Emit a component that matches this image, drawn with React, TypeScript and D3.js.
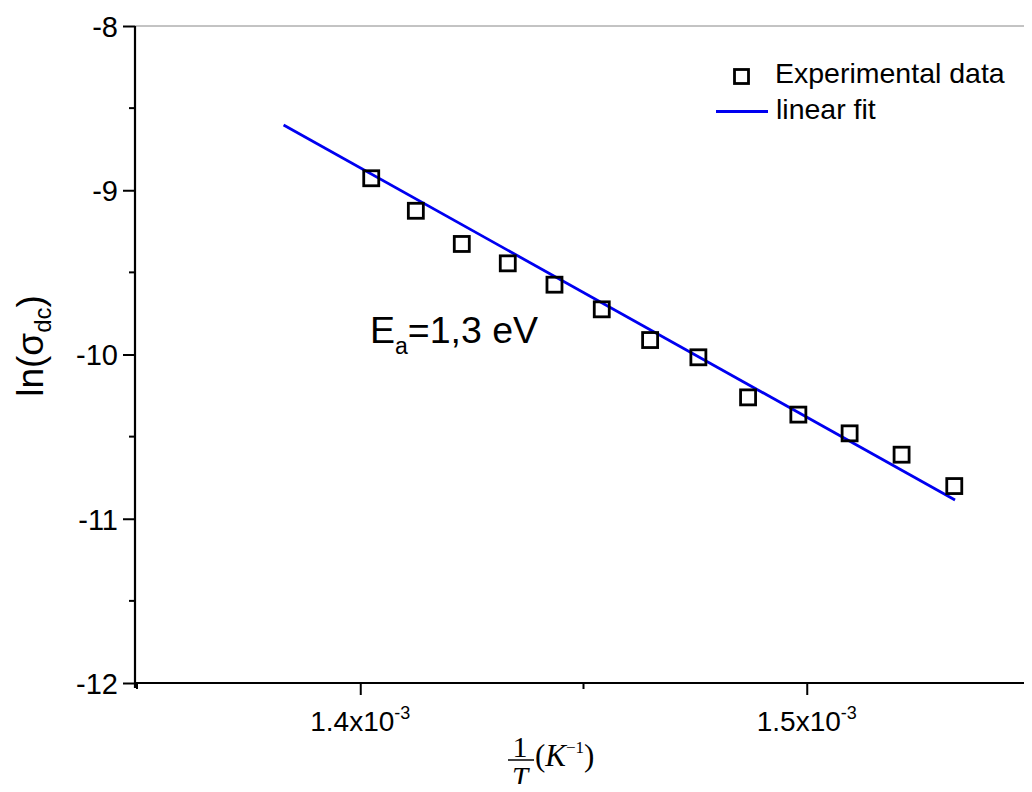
import React, { useEffect, useRef } from 'react';
import * as d3 from 'd3';

// measured points: 1/T (K^-1) vs ln(sigma_dc)
const invT = [1.40246e-3, 1.41245e-3, 1.42274e-3, 1.43304e-3, 1.4435e-3, 1.45409e-3, 1.46492e-3,
  1.47573e-3, 1.48686e-3, 1.49812e-3, 1.5096e-3, 1.52124e-3, 1.53304e-3];
const lnSigma = [-8.927, -9.125, -9.327, -9.445, -9.575, -9.725, -9.912,
  -10.017, -10.261, -10.366, -10.48, -10.61, -10.801];

// linear fit end points
const fitX = [1.38283e-3, 1.53321e-3];
const fitY = [-8.603, -10.886];

const yMajor = [-8, -9, -10, -11, -12];
const yMinor = [-8.5, -9.5, -10.5, -11.5];
const xMajor = [1.4e-3, 1.5e-3];
const xMinor = [1.35e-3, 1.45e-3, 1.55e-3];
const xTickText = ['1.4x10', '1.5x10'];

const W = 1032, H = 792;

export default function App() {
  const ref = useRef<SVGSVGElement>(null);

  useEffect(() => {
    const svg = d3.select(ref.current);
    svg.selectAll('*').remove();

    const left = 135, top = 26, bottom = 683;
    const x = d3.scaleLinear().domain([1.35e-3, 1.55e-3]).range([137, 1030]);
    const y = d3.scaleLinear().domain([-8, -12]).range([top, bottom]);
    const font = 'Liberation Sans, Arial, sans-serif';
    const blue = '#0000f0';

    // top frame line
    svg.append('line')
      .attr('x1', left).attr('x2', W).attr('y1', top).attr('y2', top)
      .attr('stroke', '#888').attr('stroke-width', 1);

    // y axis
    const yAxis = d3.axisLeft(y).tickValues(yMajor).tickSize(12).tickPadding(5)
      .tickFormat(d => String(d));
    const gy = svg.append('g').attr('transform', `translate(${left},0)`).call(yAxis);
    gy.select('.domain').remove();
    gy.selectAll('line').attr('stroke', '#000').attr('stroke-width', 2);
    gy.selectAll('text').attr('font-family', font).attr('font-size', 29).attr('fill', '#000')
      .attr('dy', '0.36em');
    svg.append('g').selectAll('line').data(yMinor).enter().append('line')
      .attr('x1', left - 6).attr('x2', left).attr('y1', d => y(d)).attr('y2', d => y(d))
      .attr('stroke', '#000').attr('stroke-width', 2);

    // x axis
    const xAxis = d3.axisBottom(x).tickValues(xMajor).tickSize(12).tickFormat(() => '');
    const gx = svg.append('g').attr('transform', `translate(0,${bottom})`).call(xAxis);
    gx.select('.domain').remove();
    gx.selectAll('line').attr('stroke', '#000').attr('stroke-width', 2);
    svg.append('g').selectAll('line').data(xMinor).enter().append('line')
      .attr('x1', d => x(d)).attr('x2', d => x(d)).attr('y1', bottom).attr('y2', bottom + 6)
      .attr('stroke', '#000').attr('stroke-width', 2);

    const xl = svg.append('g').selectAll('text').data(xMajor).enter().append('text')
      .attr('x', d => x(d)).attr('y', 731)
      .attr('text-anchor', 'middle').attr('font-family', font).attr('font-size', 28);
    xl.append('tspan').text((d, i) => xTickText[i]);
    xl.append('tspan').attr('dy', -12).attr('font-size', 18).text('-3');

    // axis lines
    svg.append('line').attr('x1', left).attr('x2', left).attr('y1', top).attr('y2', bottom + 5)
      .attr('stroke', '#000').attr('stroke-width', 2.2);
    svg.append('line').attr('x1', left - 1).attr('x2', W).attr('y1', bottom).attr('y2', bottom)
      .attr('stroke', '#000').attr('stroke-width', 2.2);

    // fit line
    const line = d3.line<number>().x(d => x(d)).y((d, i) => y(fitY[i]));
    svg.append('path').datum(fitX).attr('d', line)
      .attr('fill', 'none').attr('stroke', blue).attr('stroke-width', 2.8);

    // data squares
    const s = 15;
    svg.append('g').selectAll('rect').data(invT).enter().append('rect')
      .attr('x', d => x(d) - s / 2).attr('y', (d, i) => y(lnSigma[i]) - s / 2)
      .attr('width', s).attr('height', s)
      .attr('fill', 'none').attr('stroke', '#000').attr('stroke-width', 2.8);

    // legend
    svg.append('rect').attr('x', 734.5).attr('y', 69.5).attr('width', 14).attr('height', 14)
      .attr('fill', 'none').attr('stroke', '#000').attr('stroke-width', 2.8);
    svg.append('text').attr('x', 775).attr('y', 83).attr('font-family', font).attr('font-size', 28.5)
      .text('Experimental data');
    svg.append('line').attr('x1', 716).attr('x2', 768).attr('y1', 111.5).attr('y2', 111.5)
      .attr('stroke', blue).attr('stroke-width', 2.8);
    svg.append('text').attr('x', 776).attr('y', 119).attr('font-family', font).attr('font-size', 28.5)
      .text('linear fit');

    // annotation
    const ann = svg.append('text').attr('x', 370).attr('y', 343).attr('font-family', font).attr('font-size', 37.5);
    ann.append('tspan').text('E');
    ann.append('tspan').attr('font-size', 23).attr('dy', 11).text('a');
    ann.append('tspan').attr('dy', -11).text('=1,3 eV');

    // y label
    const yl = svg.append('text').attr('transform', 'translate(43,346) rotate(-90)')
      .attr('text-anchor', 'middle').attr('font-family', font).attr('font-size', 37);
    yl.append('tspan').text('ln(σ');
    yl.append('tspan').attr('font-size', 24).attr('dy', 8).text('dc');
    yl.append('tspan').attr('dy', -8).text(')');

    // x label: 1/T (K^-1)
    const serif = 'Liberation Serif, Times New Roman, serif';
    svg.append('text').attr('x', 520).attr('y', 757).attr('text-anchor', 'middle')
      .attr('font-family', serif).attr('font-size', 30).text('1');
    svg.append('line').attr('x1', 508).attr('x2', 534).attr('y1', 760).attr('y2', 760)
      .attr('stroke', '#000').attr('stroke-width', 1.5);
    svg.append('text').attr('x', 520).attr('y', 787).attr('text-anchor', 'middle')
      .attr('font-family', serif).attr('font-style', 'italic').attr('font-size', 29).text('T');
    const kl = svg.append('text').attr('x', 535).attr('y', 766)
      .attr('font-family', serif).attr('font-size', 31);
    kl.append('tspan').text('(');
    kl.append('tspan').attr('font-style', 'italic').text('K');
    kl.append('tspan').attr('font-size', 17).attr('dy', -13).text('−1');
    kl.append('tspan').attr('dy', 13).text(')');
  }, []);

  return <svg ref={ref} width={W} height={H} style={{ display: 'block', margin: -8, background: '#fff' }} />;
}
